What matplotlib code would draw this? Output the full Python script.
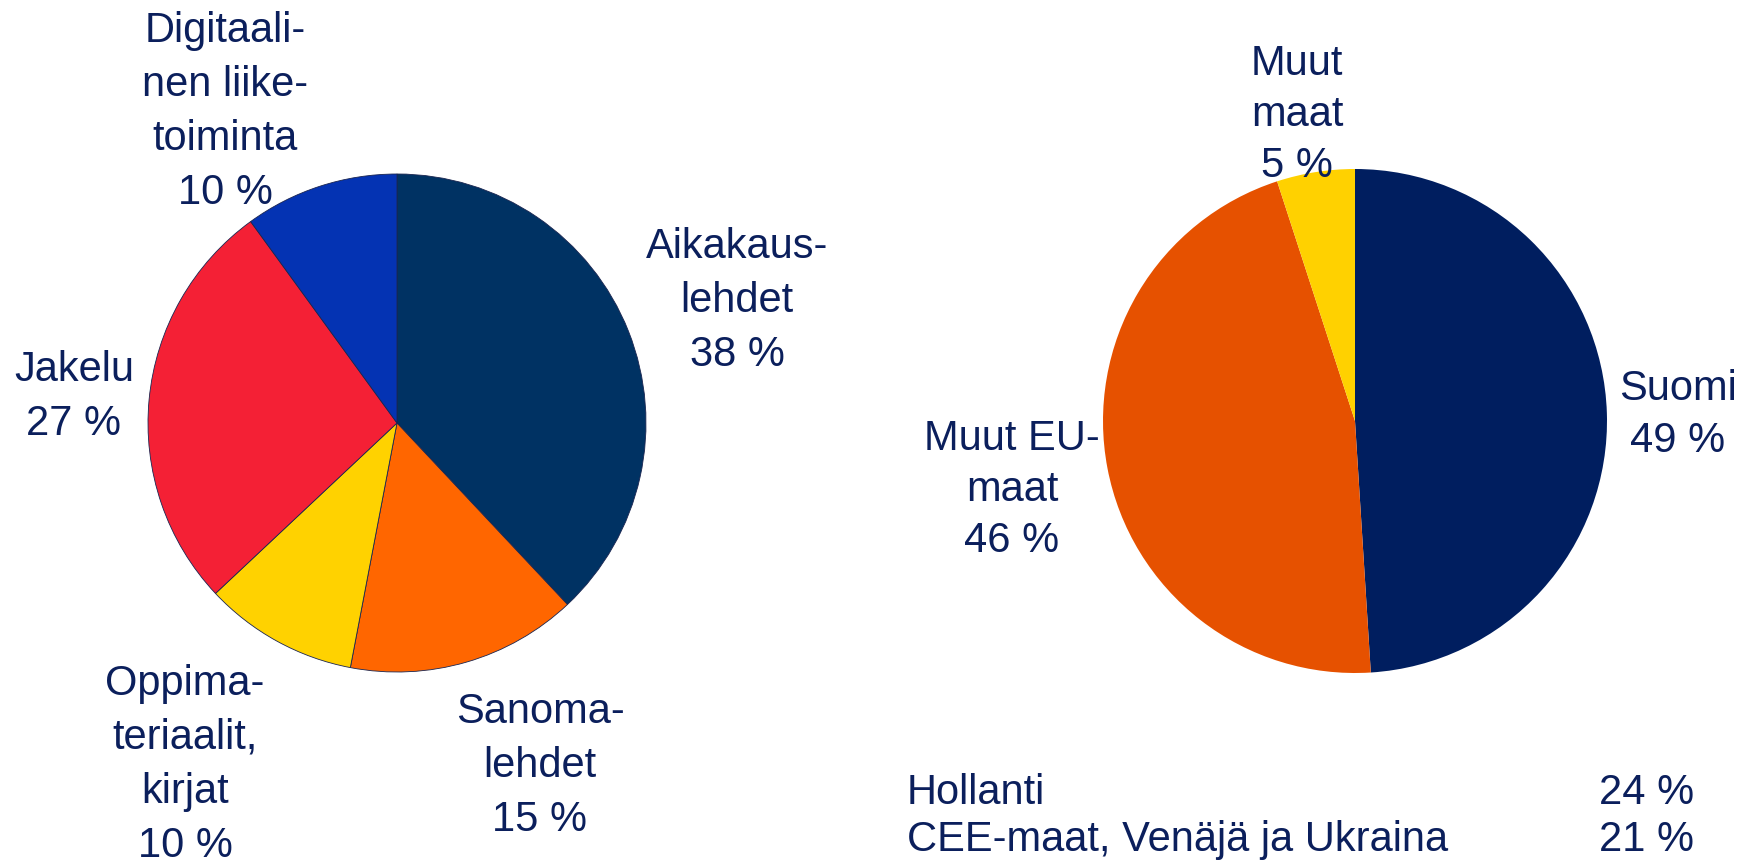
import matplotlib.pyplot as plt

# liikevaihto toimialoittain
seg_labels = ["Aikakaus-\nlehdet", "Sanoma-\nlehdet", "Oppima-\nteriaalit,\nkirjat",
              "Jakelu", "Digitaali-\nnen liike-\ntoiminta"]
seg_values = [38, 15, 10, 27, 10]
seg_colors = ["#003263", "#FF6600", "#FFD200", "#F42035", "#0433B3"]

# liikevaihto maittain
geo_labels = ["Suomi", "Muut EU-\nmaat", "Muut\nmaat"]
geo_values = [49, 46, 5]
geo_colors = ["#001E5F", "#E65100", "#FFD100"]

extra_labels = ["Hollanti", "CEE-maat, Venäjä ja Ukraina"]
extra_values = [24, 21]

txt = "#0B1F5C"
fs = 30
plt.rcParams['font.family'] = ['Liberation Sans', 'DejaVu Sans']

fig = plt.figure(figsize=(17.38, 8.63), dpi=100)
ax = fig.add_axes([0, 0, 1, 1])

ax.pie(seg_values, colors=seg_colors, startangle=90, counterclock=False,
       center=(397, 440), radius=249, frame=True,
       wedgeprops=dict(linewidth=0.6, edgecolor="#1a2550"))
ax.pie(geo_values, colors=geo_colors, startangle=90, counterclock=False,
       center=(1355, 442), radius=252, frame=True,
       wedgeprops=dict(linewidth=0))
ax.set_xlim(0, 1738)
ax.set_ylim(0, 863)
ax.set_aspect('equal')
ax.axis('off')

seg_pos = [(737, 562), (540, 97), (185, 98), (74, 466), (225, 751)]
for lab, v, (x, y) in zip(seg_labels, seg_values, seg_pos):
    ax.text(x, y, f"{lab}\n{v} %", ha="center", va="center", fontsize=fs,
            color=txt, linespacing=1.46)

geo_pos = [(1678, 448), (1012, 373), (1297, 748)]
for lab, v, (x, y) in zip(geo_labels, geo_values, geo_pos):
    ax.text(x, y, f"{lab}\n{v} %", ha="center", va="center", fontsize=fs,
            color=txt, linespacing=1.36)

for i, (lab, v) in enumerate(zip(extra_labels, extra_values)):
    y = 70 - i * 47
    ax.text(907, y, lab, ha="left", va="center", fontsize=fs, color=txt)
    ax.text(1694, y, f"{v} %", ha="right", va="center", fontsize=fs, color=txt)

fig.savefig("out.png", dpi=100)
